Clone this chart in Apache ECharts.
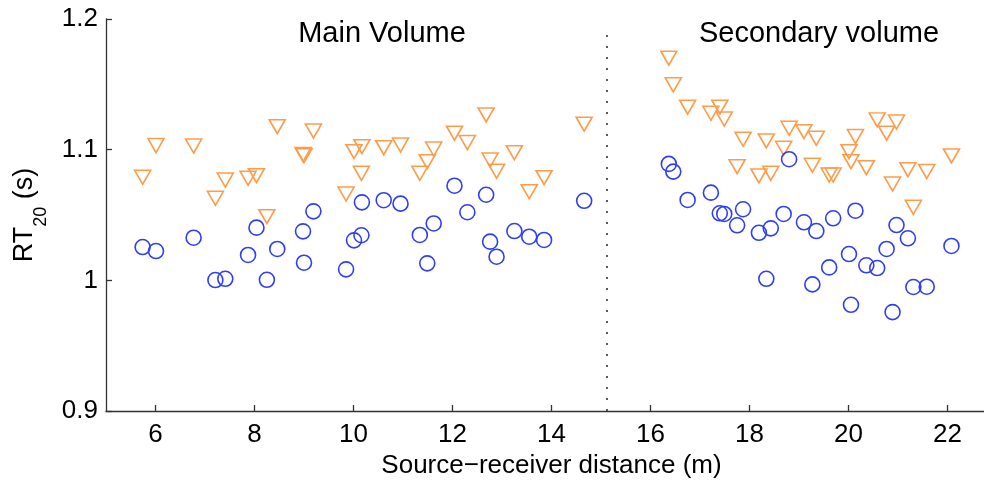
<!DOCTYPE html>
<html>
<head>
<meta charset="utf-8">
<script src="https://cdn.jsdelivr.net/npm/echarts@6/dist/echarts.min.js"></script>
<style>
html,body{margin:0;padding:0;background:#fff;}
#chart{width:984px;height:481px;}
</style>
</head>
<body>
<div id="chart"></div>
<script>
// ---- data ----
const mainDistance = [5.74, 6.01, 6.77, 7.21, 7.41, 7.87, 8.04, 8.25, 8.46, 8.98, 9.00, 9.19,
  9.85, 10.01, 10.16, 10.17, 10.61, 10.95, 11.34, 11.49, 11.62, 12.04, 12.30, 12.68, 12.76,
  12.89, 13.25, 13.55, 13.85, 14.66];
const mainCircle = [1.0255, 1.0224, 1.0326, 1.0002, 1.0012, 1.0194, 1.0403, 1.0004, 1.0240, 1.0375, 1.0135, 1.0528,
  1.0084, 1.0306, 1.0345, 1.0597, 1.0613, 1.0587, 1.0347, 1.0130, 1.0435, 1.0724, 1.0521, 1.0655, 1.0296,
  1.0181, 1.0377, 1.0334, 1.0309, 1.0609];
const mainTriangle = [1.0789, 1.1031, 1.1028, 1.0628, 1.0768, 1.0781, 1.0801, 1.0487, 1.1176, 1.0963, 1.0954, 1.1143,
  1.0661, 1.0985, 1.0819, 1.1023, 1.1015, 1.1036, 1.0819, 1.0908, 1.1005, 1.1126, 1.1054, 1.1266, 1.0921,
  1.0835, 1.0977, 1.0678, 1.0786, 1.1195];

const secDistance = [16.37, 16.46, 16.75, 17.22, 17.40, 17.49, 17.75, 17.87, 18.19, 18.34, 18.43, 18.69,
  18.80, 19.10, 19.27, 19.35, 19.61, 19.69, 20.01, 20.05, 20.14, 20.36, 20.58, 20.77, 20.89,
  20.97, 21.20, 21.31, 21.58, 22.08];
const secCircle = [1.0891, 1.0832, 1.0615, 1.0671, 1.0513, 1.0508, 1.0421, 1.0544, 1.0364, 1.0012, 1.0398, 1.0508,
  1.0927, 1.0444, 0.9969, 1.0377, 1.0099, 1.0475, 1.0201, 0.9813, 1.0533, 1.0115, 1.0094, 1.0240, 0.9757,
  1.0423, 1.0322, 0.9949, 0.9951, 1.0263];
const secTriangle = [1.1700, 1.1496, 1.1325, 1.1279, 1.1325, 1.1235, 1.0870, 1.1080, 1.0799, 1.1067, 1.0819, 1.1011,
  1.1164, 1.1138, 1.0881, 1.1087, 1.0806, 1.0806, 1.0985, 1.0908, 1.1100, 1.0862, 1.1228, 1.1126, 1.0737,
  1.1212, 1.0847, 1.0559, 1.0832, 1.0952];

const xTicks = [6, 8, 10, 12, 14, 16, 18, 20, 22];
const yTicks = [0.9, 1.0, 1.1, 1.2];
const dividerX = 15.12;
const dividerTop = 1.191;
const regionLabels = ['Main Volume', 'Secondary volume'];
const xAxisTitle = 'Source\u2212receiver distance (m)';

// ---- build ----
const circles = mainDistance.map((d, i) => [d, mainCircle[i]])
  .concat(secDistance.map((d, i) => [d, secCircle[i]]));
const triangles = mainDistance.map((d, i) => [d, mainTriangle[i]])
  .concat(secDistance.map((d, i) => [d, secTriangle[i]]));

const FONT = "'Liberation Sans', Arial, Helvetica, sans-serif";
const AXIS_COLOR = '#333';

const chart = echarts.init(document.getElementById('chart'), null, {renderer: 'canvas'});
chart.setOption({
  animation: false,
  backgroundColor: '#fff',
  grid: {left: 106, right: -13, top: 19, bottom: 70, containLabel: false, outerBoundsMode: 'none'},
  xAxis: {
    type: 'value', min: 5, max: 23,
    name: xAxisTitle, nameLocation: 'middle', nameGap: 38,
    nameTextStyle: {fontFamily: FONT, fontSize: 26, color: '#000'},
    axisLine: {show: true, lineStyle: {color: AXIS_COLOR, width: 1.3}},
    axisTick: {show: true, inside: true, length: 6, customValues: xTicks, lineStyle: {color: AXIS_COLOR, width: 1.3}},
    axisLabel: {customValues: xTicks, fontFamily: FONT, fontSize: 26, color: '#000', margin: 11},
    splitLine: {show: false}
  },
  yAxis: {
    type: 'value', min: 0.9, max: 1.2,
    name: '{a|RT}{b|20}{a| (s)}', nameLocation: 'middle', nameGap: 56, nameRotate: 90,
    nameTextStyle: {
      fontFamily: FONT, color: '#000',
      rich: {
        a: {fontFamily: FONT, fontSize: 27, color: '#000', padding: [0, 0, 12, 0], verticalAlign: 'bottom'},
        b: {fontFamily: FONT, fontSize: 18, color: '#000', verticalAlign: 'bottom'}
      }
    },
    axisLine: {show: true, lineStyle: {color: AXIS_COLOR, width: 1.3}},
    axisTick: {show: true, inside: true, length: 6, customValues: yTicks, lineStyle: {color: AXIS_COLOR, width: 1.3}},
    axisLabel: {customValues: yTicks, fontFamily: FONT, fontSize: 26, color: '#000', margin: 8,
      formatter: v => String(Math.round(v * 10) / 10)},
    splitLine: {show: false}
  },
  series: [
    {
      type: 'scatter', name: 'circle', data: circles,
      symbol: 'circle', symbolSize: 15,
      itemStyle: {color: 'rgba(0,0,0,0)', borderColor: '#2f3ff7', borderWidth: 1.6, opacity: 1},
      emphasis: {disabled: true},
      z: 3
    },
    {
      type: 'scatter', name: 'triangle', data: triangles,
      symbol: 'triangle', symbolRotate: 180, symbolSize: [16, 14],
      itemStyle: {color: 'rgba(0,0,0,0)', borderColor: '#ff9c4c', borderWidth: 1.6, opacity: 1},
      emphasis: {disabled: true},
      markLine: {
        silent: true, symbol: ['none', 'none'], label: {show: false},
        lineStyle: {color: '#333', type: [2, 9], width: 1.6},
        data: [[{coord: [dividerX, 0.9]}, {coord: [dividerX, dividerTop]}]]
      },
      z: 2
    }
  ],
  graphic: [
    {type: 'text', x: 382, y: 19, style: {text: regionLabels[0], font: '29px ' + FONT, fill: '#000', textAlign: 'center', textVerticalAlign: 'top'}},
    {type: 'text', x: 819, y: 19, style: {text: regionLabels[1], font: '29px ' + FONT, fill: '#000', textAlign: 'center', textVerticalAlign: 'top'}}
  ]
});
</script>
</body>
</html>
